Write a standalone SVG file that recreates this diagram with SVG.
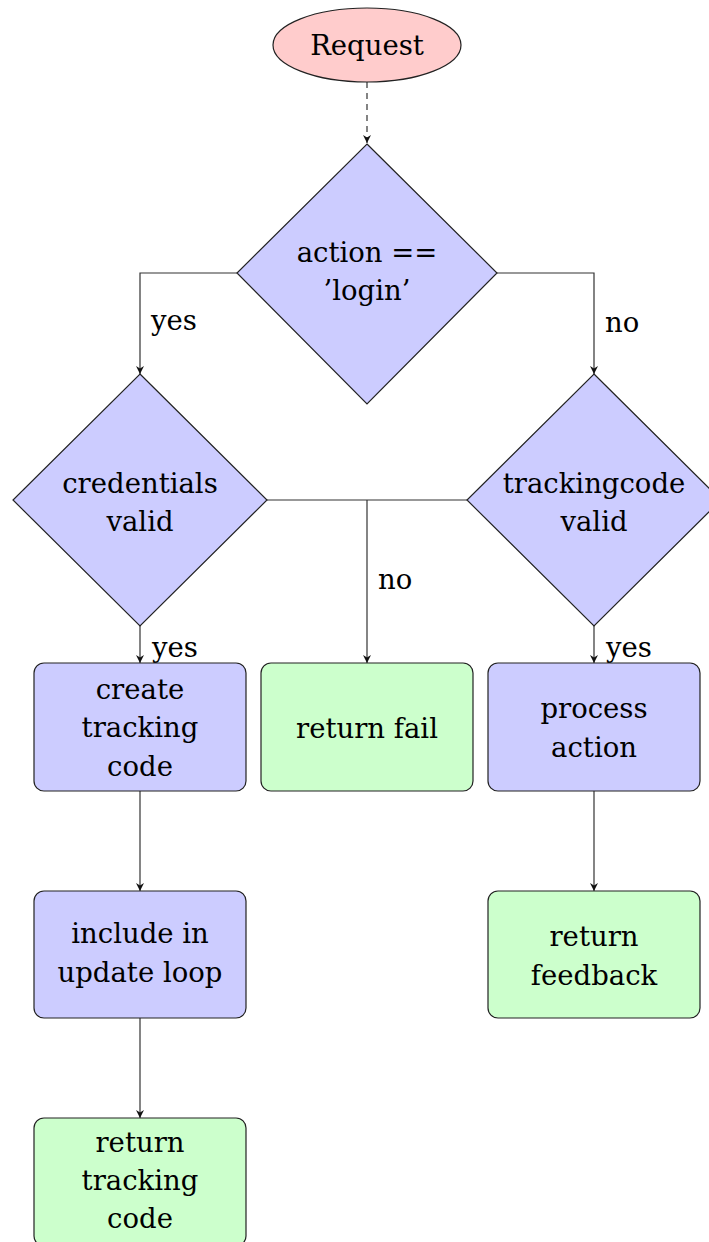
<svg xmlns="http://www.w3.org/2000/svg" width="709" height="1242" viewBox="0 0 709 1242">
<defs>
<style>
text{font-family:"DejaVu Serif","Liberation Serif",serif;font-size:27.5px;fill:#000;text-anchor:middle}
.lbl{text-anchor:start}
.blue{fill:#ccccff;stroke:#222;stroke-width:1.2}
.green{fill:#ccffcc;stroke:#222;stroke-width:1.2}
.pink{fill:#ffcccc;stroke:#222;stroke-width:1.2}
.conn{fill:none;stroke:#333;stroke-width:1.2}
</style>
<marker id="arr" viewBox="0 0 10 10" refX="10" refY="5" markerWidth="8" markerHeight="8" markerUnits="userSpaceOnUse" orient="auto">
<path d="M0,0 L10,5 L0,10 L3,5 z" fill="#111"/>
</marker>
</defs>
<g id="connectors">
<path class="conn" d="M367,82 V143" stroke-dasharray="6,5" marker-end="url(#arr)"/>
<path class="conn" d="M237,273 H140 V374" marker-end="url(#arr)"/>
<path class="conn" d="M497,273 H594 V374" marker-end="url(#arr)"/>
<path class="conn" d="M267,500 H467"/>
<path class="conn" d="M367,500 V663" marker-end="url(#arr)"/>
<path class="conn" d="M140,626 V663" marker-end="url(#arr)"/>
<path class="conn" d="M594,626 V663" marker-end="url(#arr)"/>
<path class="conn" d="M140,791 V891" marker-end="url(#arr)"/>
<path class="conn" d="M140,1018 V1118" marker-end="url(#arr)"/>
<path class="conn" d="M594,791 V891" marker-end="url(#arr)"/>
<text class="lbl" x="151" y="330">yes</text>
<text class="lbl" x="605" y="332">no</text>
<text class="lbl" x="378" y="589">no</text>
<text class="lbl" x="152" y="657">yes</text>
<text class="lbl" x="606" y="657">yes</text>
</g>
<g id="request">
<ellipse class="pink" cx="367" cy="45" rx="94" ry="37"/>
<text x="367" y="55">Request</text>
</g>
<g id="action-login">
<polygon class="blue" points="367,144 497,273 367,404 237,273"/>
<text x="367" y="262">action ==</text>
<text x="367" y="300">’login’</text>
</g>
<g id="credentials-valid">
<polygon class="blue" points="140,374 267,500 140,626 13,500"/>
<text x="140" y="493">credentials</text>
<text x="140" y="531">valid</text>
</g>
<g id="trackingcode-valid">
<polygon class="blue" points="594,374 721,500 594,626 467,500"/>
<text x="594" y="493">trackingcode</text>
<text x="594" y="531">valid</text>
</g>
<g id="create-tracking-code">
<rect class="blue" x="34" y="663" width="212" height="128" rx="10"/>
<text x="140" y="699">create</text>
<text x="140" y="737">tracking</text>
<text x="140" y="776">code</text>
</g>
<g id="return-fail">
<rect class="green" x="261" y="663" width="212" height="128" rx="10"/>
<text x="367" y="738">return fail</text>
</g>
<g id="process-action">
<rect class="blue" x="488" y="663" width="212" height="128" rx="10"/>
<text x="594" y="718">process</text>
<text x="594" y="757">action</text>
</g>
<g id="include-update-loop">
<rect class="blue" x="34" y="891" width="212" height="127" rx="10"/>
<text x="140" y="943">include in</text>
<text x="140" y="982">update loop</text>
</g>
<g id="return-feedback">
<rect class="green" x="488" y="891" width="212" height="127" rx="10"/>
<text x="594" y="946">return</text>
<text x="594" y="985">feedback</text>
</g>
<g id="return-tracking-code">
<rect class="green" x="34" y="1118" width="212" height="128" rx="10"/>
<text x="140" y="1152">return</text>
<text x="140" y="1190">tracking</text>
<text x="140" y="1228">code</text>
</g>
</svg>
